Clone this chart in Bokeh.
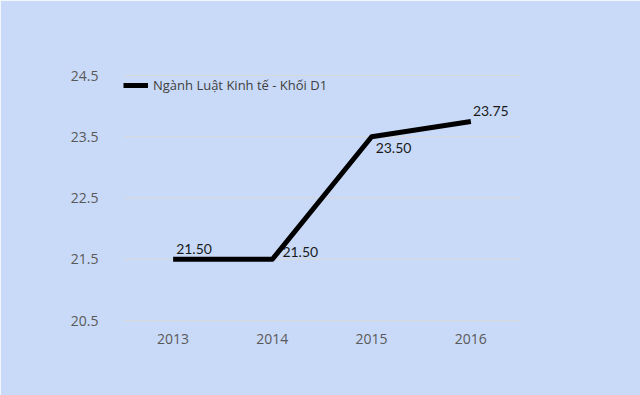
from bokeh.plotting import figure
from bokeh.models import ColumnDataSource, FixedTicker, Legend, LegendItem, LabelSet, Range1d, Span
from bokeh.embed import file_html
from bokeh.resources import INLINE
from bokeh.core.properties import value

years = ["2013", "2014", "2015", "2016"]
scores = [21.50, 21.50, 23.50, 23.75]
labels = ["21.50", "21.50", "23.50", "23.75"]
series_name = "Ngành Luật Kinh tế - Khối D1"
y_ticks = [20.5, 21.5, 22.5, 23.5, 24.5]

BG = "#c9daf8"

p = figure(width=640, height=395, x_range=years, y_range=Range1d(20.484, 24.549),
           output_backend="svg", toolbar_location=None,
           background_fill_color=BG, border_fill_color=BG,
           min_border_left=123, min_border_right=120,
           min_border_top=72, min_border_bottom=74)
p.outline_line_color = BG
p.outline_line_width = 1

src = ColumnDataSource(dict(x=years, y=scores, lab=labels,
                            xo=[3, 10, 4, 2], yo=[10, 7, -11, 10]))

p.xgrid.grid_line_color = None
p.ygrid.grid_line_color = None
for t in y_ticks:
    p.add_layout(Span(location=t, dimension="width", line_color="#d9d9d9",
                      line_width=1, level="underlay"))

r = p.line("x", "y", source=src, line_color="black", line_width=5, line_join="round")

ls = LabelSet(x="x", y="y", text="lab", source=src, x_offset="xo", y_offset="yo",
              text_font=value("Lato"), text_font_size="14px", text_color="#1a1a1a",
              text_baseline="middle", text_align="left")
p.add_layout(ls)

p.yaxis.ticker = FixedTicker(ticks=y_ticks)
p.yaxis.axis_line_color = None
p.yaxis.major_tick_line_color = None
p.yaxis.minor_tick_line_color = None
p.yaxis.major_label_standoff = 19
p.xaxis.axis_line_color = None
p.xaxis.major_tick_line_color = None
p.xaxis.major_label_standoff = 6
for ax in (p.xaxis, p.yaxis):
    ax.major_label_text_font = "Open Sans"
    ax.major_label_text_font_size = "14px"
    ax.major_label_text_color = "#595959"

legend = Legend(items=[LegendItem(label=series_name, renderers=[r])],
                location="top_left", background_fill_alpha=0, border_line_color=None,
                margin=0, padding=3, glyph_width=25, glyph_height=26, label_standoff=5,
                label_text_font="Open Sans", label_text_font_size="13px",
                label_text_color="#404040")
p.add_layout(legend)

open("out.html", "w").write(file_html(p, INLINE))
